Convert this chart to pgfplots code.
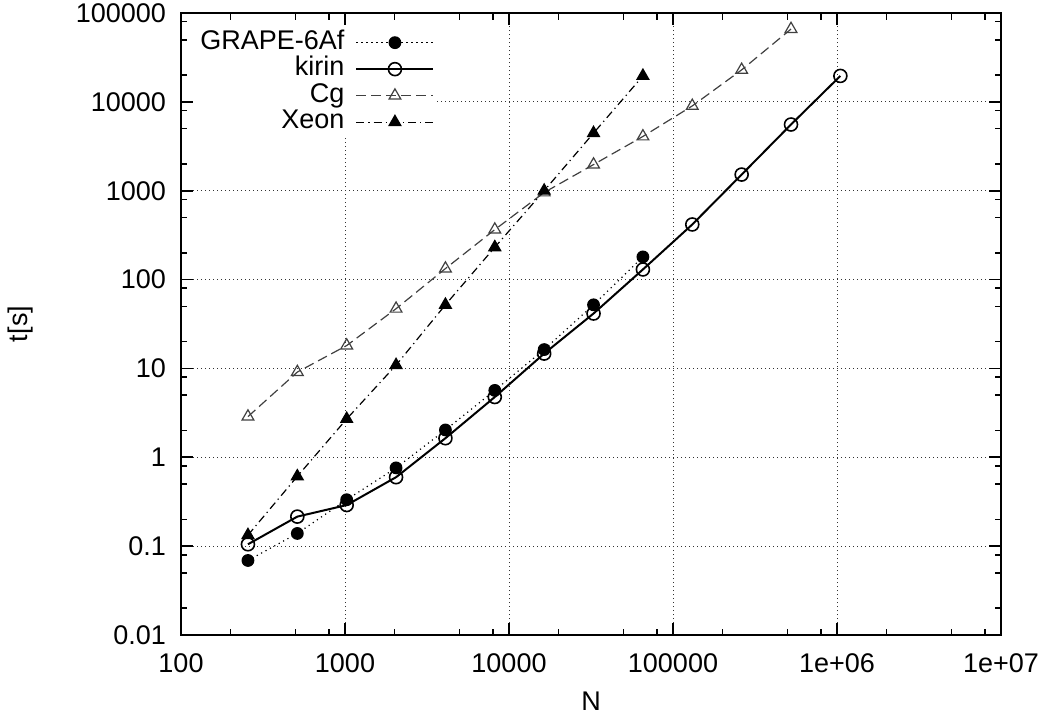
\documentclass[border=0pt]{standalone}
\usepackage{pgfplots}
\pgfplotsset{compat=1.18}
\usepackage{fontspec}
\setmainfont{Liberation Sans}

\begin{document}
\begin{tikzpicture}
\begin{axis}[
    name=ax,
    at={(0,0)}, anchor=south west,
    scale only axis,
    width=410pt, height=311pt,
    xmode=log, ymode=log,
    xmin=100, xmax=1e7,
    ymin=0.01, ymax=1e5,
    font=\fontsize{13.5}{16}\selectfont,
    xtick={100,1000,10000,100000,1e6,1e7},
    xticklabels={100,1000,10000,100000,1e+06,1e+07},
    ytick={0.01,0.1,1,10,100,1000,10000,100000},
    yticklabels={0.01,0.1,1,10,100,1000,10000,100000},
    minor xtick={200,500,800,2000,5000,8000,20000,50000,80000,2e5,5e5,8e5,2e6,5e6,8e6},
    minor ytick={0.02,0.05,0.08,0.2,0.5,0.8,2,5,8,20,50,80,200,500,800,2000,5000,8000,2e4,5e4,8e4},
    major tick length=6pt, minor tick length=3.25pt,
    every tick/.style={black, line width=0.8pt},
    axis line style={line width=1pt},
    grid=major,
    major grid style={black!80, line width=0.5pt, dash pattern=on 0.5pt off 1.5pt},
    xticklabel style={yshift=-6pt},
    yticklabel style={xshift=-4pt},
    xlabel={N}, ylabel={t[s]},
    xlabel style={at={(axis description cs:0.5,-0.106)}, anchor=center},
    ylabel style={at={(axis description cs:-0.196,0.5)}, anchor=center},
    legend image code/.code={
        \draw[mark repeat=2,mark phase=2,#1] plot coordinates {(0pt,0pt) (19.25pt,0pt) (38.5pt,0pt)};
    },
    legend style={at={(0,1)}, anchor=north west, xshift=6pt, yshift=-6.5pt,
        draw=none, fill=white, inner xsep=1pt, inner ysep=1.5pt,
        column sep=3pt,
        nodes={inner xsep=2.5pt, inner ysep=0pt, text height=9.9pt, text depth=3.35pt},
        font=\fontsize{13.5}{16}\selectfont},
    legend cell align=right,
    legend plot pos=right,
]
% GRAPE-6Af
\addplot[black, line width=0.6pt, dash pattern=on 0.6pt off 1.9pt,
    mark=*, mark size=2.9pt, mark options={solid, fill=black}] coordinates {
    (256,0.069) (512,0.139) (1024,0.333) (2048,0.76) (4096,2.03)
    (8192,5.66) (16384,16.3) (32768,52) (65536,180)
};
\addlegendentry{GRAPE-6Af}
% kirin
\addplot[black, line width=1pt,
    mark=o, mark size=3.25pt, mark options={solid, line width=0.8pt}] coordinates {
    (256,0.105) (512,0.215) (1024,0.29) (2048,0.597) (4096,1.64)
    (8192,4.77) (16384,14.7) (32768,41.5) (65536,130) (131072,417)
    (262144,1520) (524288,5560) (1048576,19600)
};
\addlegendentry{kirin}
% Cg
\addplot[black!75, line width=0.6pt, dash pattern=on 5pt off 2.5pt,
    mark=triangle, mark size=3.4pt, mark options={solid, line width=0.6pt}] coordinates {
    (256,2.87) (512,9.1) (1024,18.1) (2048,47) (4096,133) (8192,365)
    (16384,955) (32768,1970) (65536,4080) (131072,9000) (262144,22900)
    (524288,66000)
};
\addlegendentry{Cg}
% Xeon
\addplot[black, line width=0.6pt, dash pattern=on 4pt off 2pt on 0.6pt off 2pt,
    mark=triangle*, mark size=3.4pt, mark options={solid, fill=black}] coordinates {
    (256,0.133) (512,0.61) (1024,2.7) (2048,10.9) (4096,52) (8192,231)
    (16384,1000) (32768,4450) (65536,19600)
};
\addlegendentry{Xeon}
\end{axis}
\pgfresetboundingbox
\path[use as bounding box] (-90.5pt,-42pt) rectangle (431.5pt,317.5pt);
\end{tikzpicture}
\end{document}
